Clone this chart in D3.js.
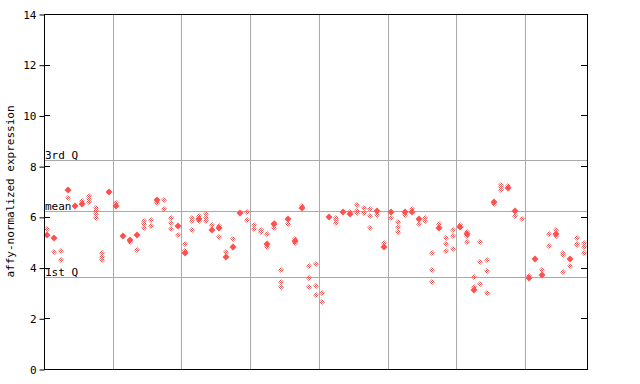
<!DOCTYPE html>
<html>
<head>
<meta charset="utf-8">
<script src="https://cdn.jsdelivr.net/npm/d3@7"></script>
<style>
  body { margin: 0; background: #fff; }
  text { font-family: "DejaVu Sans Mono", monospace; font-size: 11px; }
</style>
</head>
<body>
<svg id="chart" width="640" height="384"></svg>
<script>
// main value per sample (filled diamond), null where none
const mainVals = [
  5.30, 5.15, null, 7.04, 6.41, 6.51, null, null, null, 6.99,
  6.41, 5.24, 5.10, 5.27, null, null, 6.67, null, null, 5.62,
  4.58, null, 5.90, null, 5.49, 5.58, 4.40, 4.83, 6.15, null,
  null, null, 4.93, 5.70, null, 5.90, 5.03, 6.33, null, null,
  null, 6.00, null, 6.19, 6.11, null, null, null, 6.25, 4.83,
  6.19, null, 6.21, 6.21, 5.93, null, null, 5.58, null, null,
  5.61, 5.33, 3.12, null, null, 6.59, null, 7.12, 6.25, null,
  3.59, 4.32, 3.72, null, 5.33, null, 4.33, null, null
];

// other values per sample (checkered diamonds)
const otherVals = [
  [5.54], [4.61], [4.66, 4.31], [6.74], [6.41], [6.63], [6.84, 6.72, 6.60], [6.35, 6.23, 6.10, 5.97], [4.57, 4.40, 4.29], [],
  [6.54], [], [5.02], [4.70], [5.83, 5.70, 5.57], [5.88, 5.65], [6.56], [6.67, 6.32], [5.95, 5.75, 5.53], [5.29],
  [4.93, 4.67], [5.95, 5.82, 5.48], [6.03, 5.82], [6.12, 5.97, 5.83], [5.67], [5.65, 5.20], [4.61], [5.12], [], [6.20, 5.87],
  [5.67, 5.54], [5.48, 5.40], [5.32, 4.81], [5.76, 5.55], [3.90, 3.43, 3.25], [5.70], [5.11, 4.95], [6.42], [4.06, 3.59, 3.24], [4.14, 3.27, 2.92],
  [2.99, 2.64], [], [5.97, 5.87, 5.75], [], [6.21], [6.46, 6.25, 6.15], [6.34, 6.15], [6.30, 6.03, 5.56], [6.08], [4.96],
  [5.97], [5.80, 5.59, 5.40], [6.08], [6.32], [5.70], [5.95, 5.83], [4.57, 3.90, 3.43], [5.71], [5.16, 4.93, 4.65], [5.48, 5.24, 4.73],
  [5.67], [5.42, 5.25, 5.00], [3.64, 3.22], [5.00, 4.21, 3.35], [4.29, 3.86, 2.99], [6.50], [7.27, 7.17, 7.06], [7.23], [6.03], [5.91],
  [3.65], [], [3.90], [5.32, 4.85], [5.48, 5.25], [4.57, 4.50, 3.82], [4.06], [5.16, 4.93, 4.89], [4.96, 4.81, 4.57]
];

const yTicks = [0, 2, 4, 6, 8, 10, 12, 14];
const refLines = [
  { label: "3rd Q", value: 8.23 },
  { label: "mean", value: 6.22 },
  { label: "1st Q", value: 3.62 }
];
const groupSize = 10;

const margin = { left: 44, right: 587, top: 14, bottom: 369 };
const nSamples = mainVals.length;

const svg = d3.select("#chart");

const x = d3.scaleLinear().domain([0, nSamples]).range([margin.left, margin.right]);
const y = d3.scaleLinear().domain([0, 14]).range([margin.bottom, margin.top]);

// vertical separators between sample groups
const seps = d3.range(groupSize, nSamples, groupSize);
svg.append("g")
  .selectAll("line")
  .data(seps)
  .join("line")
  .attr("x1", d => Math.round(x(d)) + 0.5)
  .attr("x2", d => Math.round(x(d)) + 0.5)
  .attr("y1", margin.top)
  .attr("y2", margin.bottom)
  .attr("stroke", "#aaaaaa");

// quartile / mean lines
svg.append("g")
  .selectAll("line")
  .data(refLines)
  .join("line")
  .attr("x1", margin.left)
  .attr("x2", margin.right)
  .attr("y1", d => Math.round(y(d.value)) + 0.5)
  .attr("y2", d => Math.round(y(d.value)) + 0.5)
  .attr("stroke", "#aaaaaa");

svg.append("g")
  .selectAll("text")
  .data(refLines)
  .join("text")
  .attr("x", margin.left + 1)
  .attr("y", d => Math.round(y(d.value)) - 1)
  .attr("fill", "#000")
  .text(d => d.label);

// checker pattern for the secondary points
const defs = svg.append("defs");
const pat = defs.append("pattern")
  .attr("id", "checker")
  .attr("width", 2)
  .attr("height", 2)
  .attr("patternUnits", "userSpaceOnUse");
pat.append("rect").attr("x", 0).attr("y", 0).attr("width", 1).attr("height", 1).attr("fill", "#ff5050");
pat.append("rect").attr("x", 1).attr("y", 1).attr("width", 1).attr("height", 1).attr("fill", "#ff5050");

function diamond(cx, cy, r) {
  return "M" + cx + "," + (cy - r) + "L" + (cx + r) + "," + cy +
    "L" + cx + "," + (cy + r) + "L" + (cx - r) + "," + cy + "Z";
}

const otherPts = [];
otherVals.forEach((vals, i) => vals.forEach(v => otherPts.push({ i: i, v: v })));

svg.append("g")
  .selectAll("path")
  .data(otherPts)
  .join("path")
  .attr("d", d => diamond(Math.round(x(d.i + 0.5)), Math.round(y(d.v)), 3))
  .attr("fill", "url(#checker)")
  .attr("stroke", "none");

const mainPts = mainVals.map((v, i) => ({ i: i, v: v })).filter(d => d.v !== null);
svg.append("g")
  .selectAll("path")
  .data(mainPts)
  .join("path")
  .attr("d", d => diamond(Math.round(x(d.i + 0.5)), Math.round(y(d.v)), 3.5))
  .attr("fill", "#ff5050");

// frame
svg.append("rect")
  .attr("x", margin.left + 0.5)
  .attr("y", margin.top + 0.5)
  .attr("width", margin.right - margin.left)
  .attr("height", margin.bottom - margin.top)
  .attr("fill", "none")
  .attr("stroke", "#000");

// left axis
const yAxis = svg.append("g")
  .attr("transform", "translate(" + (margin.left + 0.5) + ",0.5)")
  .call(d3.axisLeft(y).tickValues(yTicks).tickSize(5).tickPadding(3).tickFormat(d3.format("d")));
yAxis.select(".domain").remove();
yAxis.selectAll("text")
  .style("font-family", "DejaVu Sans Mono, monospace")
  .style("font-size", "11px")
  .attr("fill", "#000");

// inner ticks on both sides
svg.append("g")
  .selectAll("line")
  .data(yTicks)
  .join("line")
  .attr("x1", margin.left)
  .attr("x2", margin.left + 6)
  .attr("y1", d => Math.round(y(d)) + 0.5)
  .attr("y2", d => Math.round(y(d)) + 0.5)
  .attr("stroke", "#000");
svg.append("g")
  .selectAll("line")
  .data(yTicks)
  .join("line")
  .attr("x1", margin.right - 6)
  .attr("x2", margin.right)
  .attr("y1", d => Math.round(y(d)) + 0.5)
  .attr("y2", d => Math.round(y(d)) + 0.5)
  .attr("stroke", "#000");

// y axis title
svg.append("text")
  .attr("transform", "translate(14," + ((margin.top + margin.bottom) / 2) + ") rotate(-90)")
  .attr("text-anchor", "middle")
  .attr("fill", "#000")
  .text("affy-normalized expression");
</script>
</body>
</html>
